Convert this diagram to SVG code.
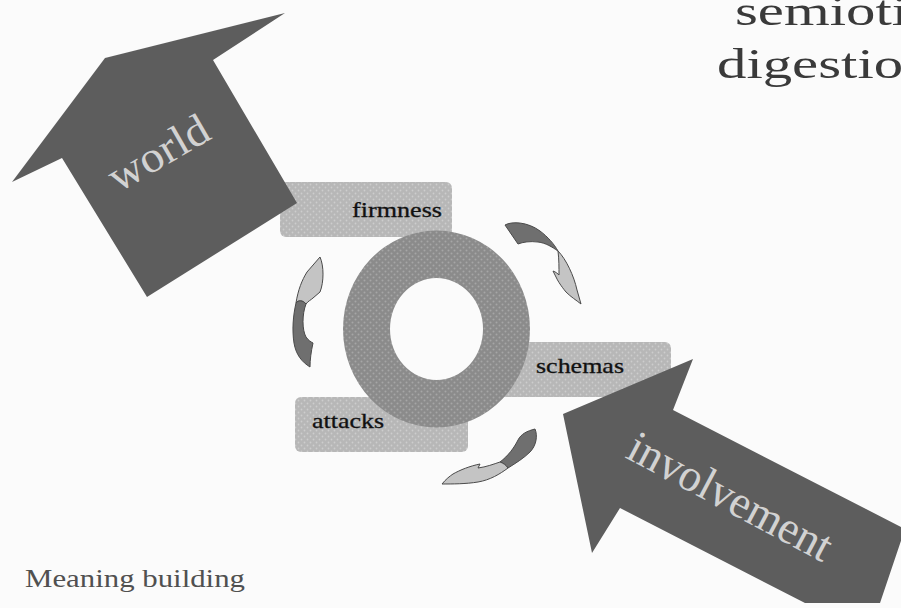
<svg xmlns="http://www.w3.org/2000/svg" width="901" height="608" viewBox="0 0 901 608">
  <defs>
    <pattern id="stippleLight" width="6" height="6" patternUnits="userSpaceOnUse">
      <rect width="6" height="6" fill="#b7b7b7"/>
      <circle cx="1.5" cy="1.5" r="0.9" fill="#cdcdcd"/>
      <circle cx="4.5" cy="4.5" r="0.9" fill="#cdcdcd"/>
    </pattern>
    <pattern id="stippleDark" width="6" height="6" patternUnits="userSpaceOnUse">
      <rect width="6" height="6" fill="#8b8b8b"/>
      <circle cx="1.5" cy="1.5" r="1" fill="#a6a6a6"/>
      <circle cx="4.5" cy="4.5" r="1" fill="#a6a6a6"/>
    </pattern>
    <style>
      .serif { font-family: "Liberation Serif", "Times New Roman", serif; }
      .box { fill: url(#stippleLight); }
      .label { font-size: 21px; fill: #111111; stroke: #111111; stroke-width: 0.3; }
      .big { fill: #5d5d5d; }
      .bigtext { fill: #d2d2d2; }
      .tail { fill: #6f6f6f; stroke: #4a4a4a; stroke-width: 1; stroke-linejoin: round; }
      .head { fill: #c4c4c4; stroke: #4a4a4a; stroke-width: 1; stroke-linejoin: round; }
    </style>
  </defs>

  <rect width="901" height="608" fill="#fbfbfb"/>

  <g id="title" class="serif" fill="#3a3a3a" font-size="42">
    <text transform="translate(735,25) scale(1.4,1)">semiotic</text>
    <text transform="translate(717,78) scale(1.4,1)">digestion</text>
  </g>

  <g id="firmness">
    <rect class="box" x="280" y="182" width="172" height="55" rx="6"/>
    <text class="serif label" x="352" y="217" textLength="90" lengthAdjust="spacingAndGlyphs">firmness</text>
  </g>

  <g id="schemas">
    <rect class="box" x="495" y="342" width="176" height="55" rx="6"/>
    <text class="serif label" x="536" y="373" textLength="88" lengthAdjust="spacingAndGlyphs">schemas</text>
  </g>

  <g id="attacks">
    <rect class="box" x="295" y="397" width="173" height="55" rx="6"/>
    <text class="serif label" x="312" y="428" textLength="72" lengthAdjust="spacingAndGlyphs">attacks</text>
  </g>

  <g id="ring">
    <path fill="url(#stippleDark)" fill-rule="evenodd"
      d="M343,329 a93.5,98.5 0 1,0 187,0 a93.5,98.5 0 1,0 -187,0 Z
         M390,329 a46.5,51 0 1,0 93,0 a46.5,51 0 1,0 -93,0 Z"/>
  </g>

  <g id="world">
    <polygon class="big" points="105,58 285,13 213,60 297,203 147,297 62,158 12,182"/>
    <text class="serif bigtext" font-size="44" transform="translate(118,193) rotate(-30)" textLength="110" lengthAdjust="spacingAndGlyphs">world</text>
  </g>

  <g id="involvement">
    <polygon class="big" points="563,414 693,359 673,410 905,529 880,603 805,603 620,508 592,553"/>
    <text class="serif bigtext" font-size="46" transform="translate(624,457) rotate(28)" textLength="225" lengthAdjust="spacingAndGlyphs">involvement</text>
  </g>

  <g id="connectors">
    <g id="cycle-top-right">
      <path class="tail" d="M505,225 C512,221 528,222 540,231 C548,237 554,244 558,251 C552,247 546,243 538,242 C530,241 523,242 518,244 Z"/>
      <path class="head" d="M558,251 C566,259 574,276 577,290 L581,304 C576,300 571,297 566,292 C561,286 558,281 557,279 L553,271 C556,272 558,274 559,275 C559,268 559,259 558,251 Z"/>
    </g>
    <g id="cycle-left">
      <path class="head" d="M320,257 C324,266 324,282 320,292 L313,298 C311,300 308,301 306,304 C303,300 298,300 296,303 C298,290 302,280 307,272 Z"/>
      <path class="tail" d="M296,303 C298,300 303,300 306,304 C302,314 302,330 306,337 C308,340 311,342 313,343 C311,352 310,360 310,367 C302,362 296,355 294,343 C292,330 293,316 296,303 Z"/>
    </g>
    <g id="cycle-bottom">
      <path class="tail" d="M535,429 C538,436 536,446 530,452 C524,458 516,463 508,468 C506,465 503,463 500,462 C508,456 514,448 518,440 C521,434 527,431 535,429 Z"/>
      <path class="head" d="M508,468 C500,474 490,480 478,482 C466,484 452,484 442,484 C446,479 450,476 453,474 C460,470 470,466 480,464 L478,468 C486,467 494,464 500,462 C503,463 506,465 508,468 Z"/>
    </g>
  </g>

  <g id="caption">
    <text class="serif" x="25" y="587" font-size="26" fill="#505050" textLength="220" lengthAdjust="spacingAndGlyphs">Meaning building</text>
  </g>
</svg>
